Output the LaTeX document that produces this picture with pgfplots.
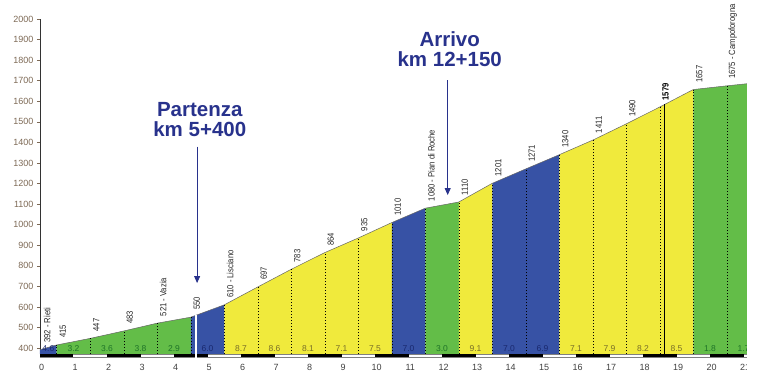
\documentclass[border=0pt]{standalone}
\usepackage{fontspec}
\setmainfont{Liberation Sans}
\usepackage{graphicx}
\usepackage{pgfplots}
\pgfplotsset{compat=1.18}
\usetikzlibrary{arrows.meta}
\definecolor{gfill}{RGB}{99,189,72}
\definecolor{yfill}{RGB}{240,234,60}
\definecolor{bfill}{RGB}{55,82,165}
\definecolor{gtxt}{RGB}{30,115,40}
\definecolor{ytxt}{RGB}{120,110,40}
\definecolor{btxt}{RGB}{25,40,110}
\definecolor{navy}{RGB}{40,50,140}
\definecolor{ycol}{RGB}{125,105,85}
\tikzset{
  elev/.style={rotate=90, anchor=west, inner sep=0pt, font=\fontsize{9}{9}\selectfont, text=black!85},
  grad/.style={inner sep=0pt, font=\fontsize{8.5}{8.5}\selectfont},
  ttl/.style={anchor=base, inner sep=0pt, text=navy, font=\fontsize{20.5}{20.5}\selectfont\bfseries},
}
\begin{document}
\begin{tikzpicture}[x=1pt,y=1pt]
\begin{axis}[at={(40pt,22.7pt)}, anchor=south west, scale only axis,
  width=720.25pt, height=338.3pt,
  xmin=-0.05, xmax=21.45, ymin=355, ymax=2000, clip=false,
  axis lines*=left, axis line style={-},
  x axis line style={draw=none},
  y axis line style={draw=black!80, line width=0.6pt},
  xtick={0,...,21}, ytick={400,500,...,2000},
  tick align=outside, major tick length=3pt,
  xtick style={draw=none}, ytick style={draw=ycol, thin},
  tick label style={font=\fontsize{9}{9}\selectfont},
  yticklabel style={text=ycol},
  xticklabel style={text=black!75},
  /pgf/number format/assume math mode=true,
  /pgf/number format/1000 sep={},
  unbounded coords=jump,
]
% coloured segments
\addplot[fill=bfill, draw=none, forget plot] coordinates {(-0.05,371) (-0.05,392) (0.45,415) (0.45,371)};
\addplot[fill=gfill, draw=none, forget plot] coordinates {(0.45,371) (0.45,415) (1.45,447) (2.45,483) (3.45,521) (4.45,550) (4.45,371)};
\addplot[fill=bfill, draw=none, forget plot] coordinates {(4.45,371) (4.45,550) (5.45,610) (5.45,371)};
\addplot[fill=yfill, draw=none, forget plot] coordinates {(5.45,371) (5.45,610) (6.45,697) (7.45,783) (8.45,864) (9.45,935) (10.45,1010) (10.45,371)};
\addplot[fill=bfill, draw=none, forget plot] coordinates {(10.45,371) (10.45,1010) (11.45,1080) (11.45,371)};
\addplot[fill=gfill, draw=none, forget plot] coordinates {(11.45,371) (11.45,1080) (12.45,1110) (12.45,371)};
\addplot[fill=yfill, draw=none, forget plot] coordinates {(12.45,371) (12.45,1110) (13.45,1201) (13.45,371)};
\addplot[fill=bfill, draw=none, forget plot] coordinates {(13.45,371) (13.45,1201) (14.45,1271) (15.45,1340) (15.45,371)};
\addplot[fill=yfill, draw=none, forget plot] coordinates {(15.45,371) (15.45,1340) (16.45,1411) (17.45,1490) (18.45,1572) (19.45,1657) (19.45,371)};
\addplot[fill=gfill, draw=none, forget plot] coordinates {(19.45,371) (19.45,1657) (20.45,1675) (21.45,1692) (21.45,371)};
% profile line
\addplot[draw=black!60, line width=0.5pt] coordinates {(-0.05,392) (0.45,415) (1.45,447) (2.45,483) (3.45,521) (4.45,550) (5.45,610) (6.45,697) (7.45,783) (8.45,864) (9.45,935) (10.45,1010) (11.45,1080) (12.45,1110) (13.45,1201) (14.45,1271) (15.45,1340) (16.45,1411) (17.45,1490) (18.45,1572) (19.45,1657) (20.45,1675) (21.45,1692)};
% km dotted lines
\addplot[black, line width=0.5pt, dash pattern=on 1.2pt off 1.8pt] coordinates {
(0.45,371) (0.45,415) (0.45,nan)
(1.45,371) (1.45,447) (1.45,nan)
(2.45,371) (2.45,483) (2.45,nan)
(3.45,371) (3.45,521) (3.45,nan)
(4.45,371) (4.45,550) (4.45,nan)
(5.45,371) (5.45,610) (5.45,nan)
(6.45,371) (6.45,697) (6.45,nan)
(7.45,371) (7.45,783) (7.45,nan)
(8.45,371) (8.45,864) (8.45,nan)
(9.45,371) (9.45,935) (9.45,nan)
(10.45,371) (10.45,1010) (10.45,nan)
(11.45,371) (11.45,1080) (11.45,nan)
(12.45,371) (12.45,1110) (12.45,nan)
(13.45,371) (13.45,1201) (13.45,nan)
(14.45,371) (14.45,1271) (14.45,nan)
(15.45,371) (15.45,1340) (15.45,nan)
(16.45,371) (16.45,1411) (16.45,nan)
(17.45,371) (17.45,1490) (17.45,nan)
(18.45,371) (18.45,1572) (18.45,nan)
(19.45,371) (19.45,1657) (19.45,nan)
(20.45,371) (20.45,1675)};
% km bar
\addplot[fill=white, draw=black!50, line width=0.3pt, forget plot] coordinates {(-0.05,355) (21.45,355) (21.45,371) (-0.05,371)} -- cycle;
\addplot[fill=black, draw=none, forget plot] coordinates {(-0.05,355) (0.95,355) (0.95,371) (-0.05,371)};
\addplot[fill=black, draw=none, forget plot] coordinates {(1.95,355) (2.95,355) (2.95,371) (1.95,371)};
\addplot[fill=black, draw=none, forget plot] coordinates {(3.95,355) (4.95,355) (4.95,371) (3.95,371)};
\addplot[fill=black, draw=none, forget plot] coordinates {(5.95,355) (6.95,355) (6.95,371) (5.95,371)};
\addplot[fill=black, draw=none, forget plot] coordinates {(7.95,355) (8.95,355) (8.95,371) (7.95,371)};
\addplot[fill=black, draw=none, forget plot] coordinates {(9.95,355) (10.95,355) (10.95,371) (9.95,371)};
\addplot[fill=black, draw=none, forget plot] coordinates {(11.95,355) (12.95,355) (12.95,371) (11.95,371)};
\addplot[fill=black, draw=none, forget plot] coordinates {(13.95,355) (14.95,355) (14.95,371) (13.95,371)};
\addplot[fill=black, draw=none, forget plot] coordinates {(15.95,355) (16.95,355) (16.95,371) (15.95,371)};
\addplot[fill=black, draw=none, forget plot] coordinates {(17.95,355) (18.95,355) (18.95,371) (17.95,371)};
\addplot[fill=black, draw=none, forget plot] coordinates {(19.95,355) (20.95,355) (20.95,371) (19.95,371)};
% start / finish markers
\addplot[white, line width=1.5pt] coordinates {(4.6,352) (4.6,559)};
\addplot[black, line width=1.4pt] coordinates {(18.6,355) (18.6,1585)};
% gradient labels
\node[grad, text=btxt] at (axis cs:0.2,395) {4.6};
\node[grad, text=gtxt] at (axis cs:0.95,395) {3.2};
\node[grad, text=gtxt] at (axis cs:1.95,395) {3.6};
\node[grad, text=gtxt] at (axis cs:2.95,395) {3.8};
\node[grad, text=gtxt] at (axis cs:3.95,395) {2.9};
\node[grad, text=btxt] at (axis cs:4.95,395) {6.0};
\node[grad, text=ytxt] at (axis cs:5.95,395) {8.7};
\node[grad, text=ytxt] at (axis cs:6.95,395) {8.6};
\node[grad, text=ytxt] at (axis cs:7.95,395) {8.1};
\node[grad, text=ytxt] at (axis cs:8.95,395) {7.1};
\node[grad, text=ytxt] at (axis cs:9.95,395) {7.5};
\node[grad, text=btxt] at (axis cs:10.95,395) {7.0};
\node[grad, text=gtxt] at (axis cs:11.95,395) {3.0};
\node[grad, text=ytxt] at (axis cs:12.95,395) {9.1};
\node[grad, text=btxt] at (axis cs:13.95,395) {7.0};
\node[grad, text=btxt] at (axis cs:14.95,395) {6.9};
\node[grad, text=ytxt] at (axis cs:15.95,395) {7.1};
\node[grad, text=ytxt] at (axis cs:16.95,395) {7.9};
\node[grad, text=ytxt] at (axis cs:17.95,395) {8.2};
\node[grad, text=ytxt] at (axis cs:18.95,395) {8.5};
\node[grad, text=gtxt] at (axis cs:19.95,395) {1.8};
\node[grad, text=gtxt] at (axis cs:20.95,395) {1.7};
% elevation labels
\node[elev] at (axis cs:0.16,425) {\scalebox{0.85}[1]{392 - Rieti}};
\node[elev] at (axis cs:0.63,448) {\scalebox{0.85}[1]{415}};
\node[elev] at (axis cs:1.63,480) {\scalebox{0.85}[1]{447}};
\node[elev] at (axis cs:2.63,516) {\scalebox{0.85}[1]{483}};
\node[elev] at (axis cs:3.63,554) {\scalebox{0.85}[1]{521 - Vazia}};
\node[elev] at (axis cs:4.63,585) {\scalebox{0.85}[1]{550}};
\node[elev] at (axis cs:5.63,643) {\scalebox{0.85}[1]{610 - Lisciano}};
\node[elev] at (axis cs:6.63,730) {\scalebox{0.85}[1]{697}};
\node[elev] at (axis cs:7.63,816) {\scalebox{0.85}[1]{783}};
\node[elev] at (axis cs:8.63,897) {\scalebox{0.85}[1]{864}};
\node[elev] at (axis cs:9.63,968) {\scalebox{0.85}[1]{935}};
\node[elev] at (axis cs:10.63,1043) {\scalebox{0.85}[1]{1010}};
\node[elev] at (axis cs:11.63,1113) {\scalebox{0.85}[1]{1080 - Pian di Roche}};
\node[elev] at (axis cs:12.63,1143) {\scalebox{0.85}[1]{1110}};
\node[elev] at (axis cs:13.63,1234) {\scalebox{0.85}[1]{1201}};
\node[elev] at (axis cs:14.63,1304) {\scalebox{0.85}[1]{1271}};
\node[elev] at (axis cs:15.63,1373) {\scalebox{0.85}[1]{1340}};
\node[elev] at (axis cs:16.63,1444) {\scalebox{0.85}[1]{1411}};
\node[elev] at (axis cs:17.63,1523) {\scalebox{0.85}[1]{1490}};
\node[elev, text=black] at (axis cs:18.62,1603) {\scalebox{0.85}[1]{\bfseries 1579}};
\node[elev] at (axis cs:19.63,1690) {\scalebox{0.85}[1]{1657}};
\node[elev] at (axis cs:20.63,1708) {\scalebox{0.85}[1]{1675 - Campoforogna}};
% annotations
\draw[navy, line width=0.8pt, -{Triangle[width=6pt,length=7pt]}] (axis cs:4.64,1379) -- (axis cs:4.64,716);
\draw[navy, line width=0.8pt, -{Triangle[width=6pt,length=7pt]}] (axis cs:12.12,1703) -- (axis cs:12.12,1144);
\node[ttl] at (axis cs:4.72,1525) {Partenza};
\node[ttl] at (axis cs:4.72,1428) {km 5+400};
\node[ttl] at (axis cs:12.18,1865) {Arrivo};
\node[ttl] at (axis cs:12.18,1768) {km 12+150};
\end{axis}
\fill[white] (746.5pt,0pt) rectangle (780pt,380pt);
\pgfresetboundingbox
\path[use as bounding box] (0pt,0pt) rectangle (766pt,380pt);
\end{tikzpicture}
\end{document}
